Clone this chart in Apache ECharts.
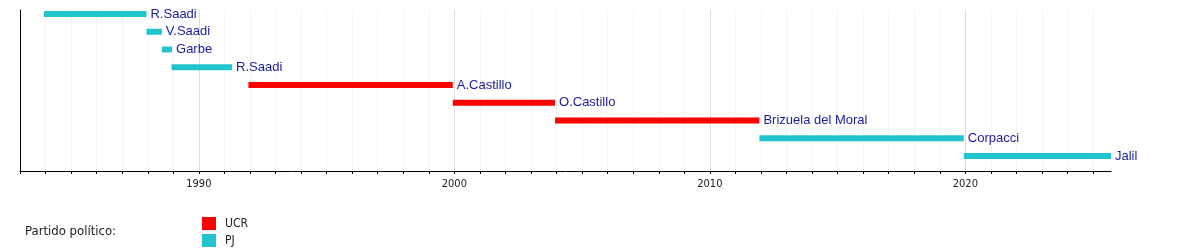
<!DOCTYPE html>
<html>
<head>
<meta charset="utf-8">
<script src="https://cdn.jsdelivr.net/npm/echarts@6/dist/echarts.min.js"></script>
<style>
html,body{margin:0;padding:0;background:#fff;}
#chart{width:1200px;height:250px;}
</style>
</head>
<body>
<div id="chart"></div>
<script>
// ---- data ----
const names   = ['R.Saadi','V.Saadi','Garbe','R.Saadi','A.Castillo','O.Castillo','Brizuela del Moral','Corpacci','Jalil'];
const starts  = [1983.94, 1987.95, 1988.55, 1988.93, 1991.94, 1999.94, 2003.94, 2011.94, 2019.94];
const ends    = [1987.95, 1988.55, 1988.95, 1991.30, 1999.94, 2003.94, 2011.94, 2019.94, 2025.70];
const parties = ['PJ','PJ','PJ','PJ','UCR','UCR','UCR','PJ','PJ'];
const partyNames  = ['UCR','PJ'];
const partyColors = ['#ff0000','#20c4cc'];
const tickYears  = [];
for (let y = 1983; y <= 2025; y++) tickYears.push(y);
const labelYears = [1990, 2000, 2010, 2020];
const axisMin = 1983, axisMax = 2025.7;

const chart = echarts.init(document.getElementById('chart'), null, {renderer:'canvas'});

function renderItem(params, api) {
  const row = api.value(2);
  const s = api.coord([api.value(0), row]);
  const e = api.coord([api.value(1), row]);
  const h = 6;
  return {
    type: 'group',
    children: [
      {type:'rect', shape:{x:s[0], y:s[1]-h/2, width:e[0]-s[0], height:h},
       style:{fill: api.visual('color')}},
      {type:'text', x: e[0]+4, y: s[1],
       style:{text: names[row], fill:'#1a1a9e', font:'13px "Liberation Sans", Arial, sans-serif',
              verticalAlign:'middle', align:'left'}}
    ]
  };
}

const series = partyNames.map((p, pi) => ({
  name: p,
  type: 'custom',
  renderItem: renderItem,
  clip: false,
  itemStyle: {color: partyColors[pi]},
  encode: {x: [0,1], y: 2},
  data: names.map((n, i) => parties[i] === p ? [starts[i], ends[i], i] : null).filter(d => d)
}));

const narrow = '"Liberation Sans Narrow", "DejaVu Sans Condensed", sans-serif';

chart.setOption({
  animation: false,
  title: {
    text: 'Partido político:', left: 25, top: 225, padding: 0,
    textStyle: {fontSize: 13, fontWeight: 'normal', color: '#222', fontFamily: narrow}
  },
  legend: {
    data: partyNames, orient: 'vertical', left: 202, top: 217, padding: 0,
    itemWidth: 14, itemHeight: 13, itemGap: 4, icon: 'rect',
    textStyle: {fontSize: 12, color: '#222', fontFamily: narrow, padding: [0,0,0,4]}
  },
  grid: {left: 20, right: 89, top: 10, bottom: 79},
  xAxis: [
    {
      type: 'value', min: axisMin, max: axisMax, position: 'bottom',
      axisLine: {show: true, onZero: false, lineStyle: {color: '#000', width: 1}},
      axisTick: {show: true, customValues: tickYears, length: 3, lineStyle: {color: '#000'}},
      axisLabel: {show: true, customValues: labelYears, margin: 8, fontSize: 11,
                  color: '#222', fontFamily: narrow, formatter: v => String(v)},
      splitLine: {show: true, lineStyle: {color: '#f5f5f5', width: 1}}
    },
    {
      type: 'value', min: axisMin, max: axisMax, position: 'top',
      axisLine: {show: false, onZero: false},
      axisTick: {show: false, customValues: labelYears},
      axisLabel: {show: false},
      splitLine: {show: true, lineStyle: {color: '#dddddd', width: 1}}
    }
  ],
  yAxis: {
    type: 'value', inverse: true, min: -0.225, max: 8.845,
    axisLine: {show: true, onZero: false, lineStyle: {color: '#000', width: 1}},
    axisTick: {show: false}, axisLabel: {show: false}, splitLine: {show: false}
  },
  series: series
});
</script>
</body>
</html>
